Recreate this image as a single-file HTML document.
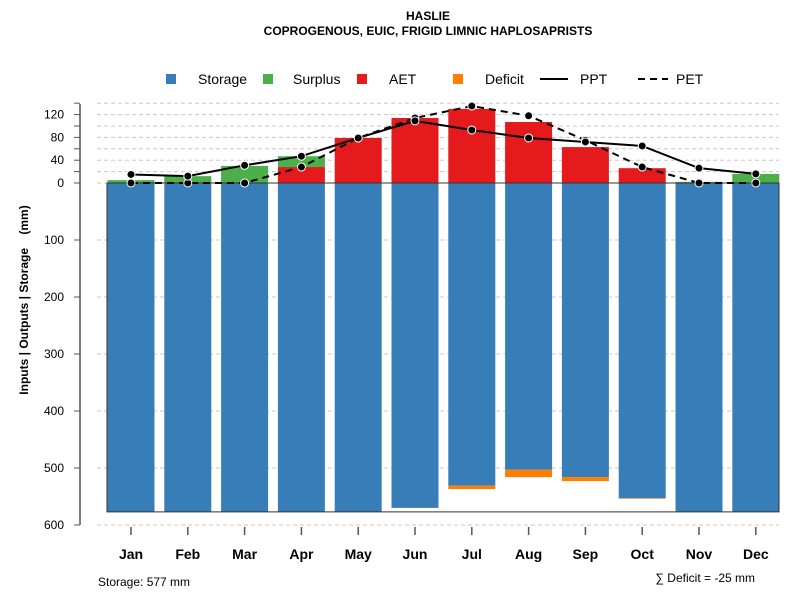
<!DOCTYPE html>
<html><head><meta charset="utf-8"><style>
body{margin:0;background:#fff;font-family:"Liberation Sans",sans-serif}
svg text{font-family:"Liberation Sans",sans-serif}
</style></head><body>
<svg id="c" width="800" height="600" xmlns="http://www.w3.org/2000/svg">
<text x="428" y="20" text-anchor="middle" font-size="12" font-weight="bold">HASLIE</text>
<text x="428" y="35" text-anchor="middle" font-size="12" font-weight="bold">COPROGENOUS, EUIC, FRIGID LIMNIC HAPLOSAPRISTS</text>
<g id="grid"></g><g id="bars"></g><g id="lines"></g><g id="axes"></g>
<g font-size="14">
<rect x="166" y="74" width="10" height="10" fill="#377eb8"/><text x="198" y="84">Storage</text>
<rect x="263" y="74" width="10" height="10" fill="#4daf4a"/><text x="293" y="84">Surplus</text>
<rect x="357" y="74" width="10" height="10" fill="#e41a1c"/><text x="389" y="84">AET</text>
<rect x="453" y="74" width="10" height="10" fill="#ff7f00"/><text x="485" y="84">Deficit</text>
<line x1="540" y1="79" x2="568" y2="79" stroke="#000" stroke-width="2"/><text x="580" y="84">PPT</text>
<line x1="638" y1="79" x2="668" y2="79" stroke="#000" stroke-width="2" stroke-dasharray="7,5"/><text x="676" y="84">PET</text>
</g>
<text transform="translate(28,300) rotate(-90)" text-anchor="middle" font-size="12" font-weight="bold" style="white-space:pre">Inputs | Outputs | Storage    (mm)</text>
<text x="98" y="586" font-size="12">Storage: 577 mm</text>
<text x="755" y="582" text-anchor="end" font-size="12">∑ Deficit = -25 mm</text>
</svg>
<script>
const months=["Jan","Feb","Mar","Apr","May","Jun","Jul","Aug","Sep","Oct","Nov","Dec"];
const storage=[577,577,577,577,577,570,531,503,516,553,577,577];
const deficit=[0,0,0,0,0,0,6,13,7,1,0,0];
const aet=[0,0,0,28,79,114,130,107,63,26,0,0];
const surplus=[5,12,30,19,0,0,0,0,0,0,2,16];
const ppt=[15,12,31,47,79,109,93,79,72,65,26,16];
const pet=[0,0,0,28,79,114,135,118,75,28,0,0];
const topTicks=[0,40,80,120];
const bottomTicks=[100,200,300,400,500,600];
const NS="http://www.w3.org/2000/svg";
const y0=183,k=0.57;
const yUp=v=>y0-v*k, yDn=v=>y0+v*k;
const xc=i=>131+i*56.8;
const bw=47;
function el(tag,attrs,parent){const e=document.createElementNS(NS,tag);for(const a in attrs)e.setAttribute(a,attrs[a]);document.getElementById(parent).appendChild(e);return e;}
for(let v=0;v<=140;v+=20){const g=el('line',{x1:97,x2:779,y1:yUp(v),y2:yUp(v),stroke:'#c8c8c8','stroke-dasharray':'4,3'},'grid');

}
for(const v of bottomTicks){const g=el('line',{x1:97,x2:779,y1:yDn(v),y2:yDn(v),stroke:'#c8c8c8','stroke-dasharray':'4,3'},'grid');

}
months.forEach((m,i)=>{
 const x=xc(i)-bw/2;
 const s=el('rect',{x:x,y:y0,width:bw,height:storage[i]*k,fill:'#377eb8'},'bars');
 
 
 if(deficit[i]>0){const d=el('rect',{x:x,y:yDn(storage[i]),width:bw,height:deficit[i]*k,fill:'#ff7f00'},'bars');
 
 }
 if(aet[i]>0){const a=el('rect',{x:x,y:yUp(aet[i]),width:bw,height:aet[i]*k,fill:'#e41a1c'},'bars');
 
 }
 if(surplus[i]>0){const u=el('rect',{x:x,y:yUp(aet[i]+surplus[i]),width:bw,height:surplus[i]*k,fill:'#4daf4a'},'bars');
 
 }
});
const box=el('rect',{x:107,y:y0,width:672,height:577*k,fill:'none',stroke:'#333','stroke-width':1},'bars');


function series(vals,dash,name){
 const p=el('polyline',{points:vals.map((v,i)=>xc(i)+','+yUp(v)).join(' '),fill:'none',stroke:'#000','stroke-width':2,'stroke-dasharray':dash},'lines');
 
 
 vals.forEach((v,i)=>{const c=el('circle',{cx:xc(i),cy:yUp(v),r:4,fill:'#000',stroke:'#fff','stroke-width':1},'lines');
 
 });
}
series(pet,'7,5','pet');
series(ppt,'none','ppt');
const ax=el('line',{x1:80,x2:80,y1:104,y2:525,stroke:'#555','stroke-width':1.5},'axes');


for(let v=0;v<=140;v+=20){const t=el('line',{x1:74,x2:80,y1:yUp(v),y2:yUp(v),stroke:'#555'},'axes');

}
for(const v of topTicks){const t=el('text',{x:64,y:yUp(v)+4,'text-anchor':'end','font-size':12},'axes');t.textContent=v;

}
for(const v of bottomTicks){const l=el('line',{x1:74,x2:80,y1:yDn(v),y2:yDn(v),stroke:'#555'},'axes');


const t=el('text',{x:64,y:yDn(v)+4,'text-anchor':'end','font-size':12},'axes');t.textContent=v;

}
months.forEach((m,i)=>{
 const l=el('line',{x1:xc(i),x2:xc(i),y1:527,y2:535,stroke:'#555','stroke-width':1.5},'axes');
 
 
 const t=el('text',{x:xc(i),y:559,'text-anchor':'middle','font-size':14,'font-weight':'bold'},'axes');t.textContent=m;
 
 
});
</script>
</body></html>
